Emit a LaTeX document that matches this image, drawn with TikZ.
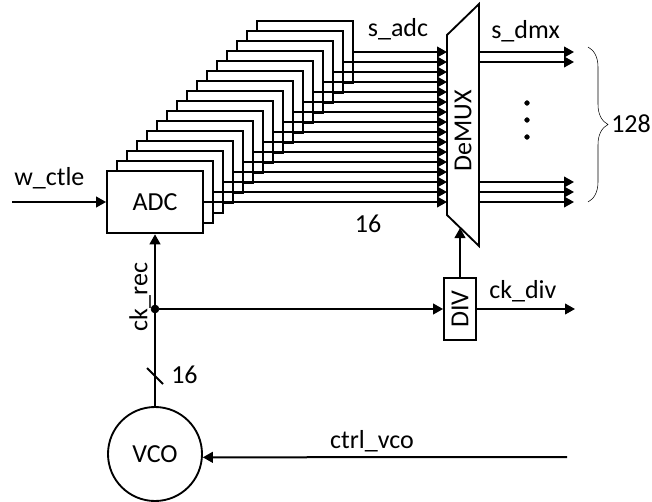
\documentclass[tikz,border=0pt]{standalone}
\usepackage{fontspec}
\setmainfont{Carlito}
\usetikzlibrary{arrows.meta,decorations.pathreplacing}
\tikzset{sigline/.style={draw,line width=1.5pt}}
\tikzset{sigarrow/.style={sigline,-{Triangle[length=7.5pt,width=8pt]}}}
\tikzset{adcbox/.style={draw,fill=white,line width=1.4pt,minimum width=72pt,minimum height=47pt,inner sep=0pt}}
\tikzset{lbl/.style={inner sep=0pt,font=\fontsize{19.5}{22}\selectfont}}
\tikzset{dot/.style={draw,circle,black,inner sep=0pt,minimum size=3.5pt,fill}}

\begin{document}
\begin{tikzpicture}[x=.75pt,y=-.75pt]
    \useasboundingbox (0,0) rectangle (652,502);

    % stack of converters, back one first
    \foreach \i in {15,14,...,0}{
      \node[adcbox] (adc\i) at (155+10*\i,202-10*\i) {};
    }
    \node[lbl] at (adc0) {ADC};
    \foreach \i in {0,...,15}{
      \coordinate (dmxin\i) at (447,202-10*\i);
      \draw[sigarrow] (adc\i.east) -- (dmxin\i);
    }

    % demux
    \draw[line width=1.4pt,fill=white] (447,35) -- (479,4) -- (479,246) -- (447,215) -- cycle;
    \node[lbl,rotate=90] (dmx) at (463,131) {DeMUX};
    \coordinate (dmxclk) at (460,228);

    % outputs
    \foreach \y in {52,62,182,192,202}{
      \coordinate (dmxout\y) at (479,\y);
      \coordinate (out\y) at (574,\y);
      \draw[sigarrow] (dmxout\y) -- (out\y);
    }
    \foreach \y in {103,120,137}{
      \node[dot] (vdot\y) at (527,\y) {};
    }
    \coordinate (bracetop) at (588,47);
    \coordinate (bracebot) at (588,202);
    \draw[thin,decorate,decoration={brace,amplitude=15pt}] (bracetop) -- (bracebot);
    \node[lbl,anchor=west] (nout) at (611,124) {128};

    % input and clock
    \coordinate (win) at (12,202);
    \draw[sigarrow] (win) -- (adc0.west);
    \node[lbl,anchor=west] (wlbl) at (14,178) {w\_ctle};

    \node[draw,circle,line width=1.4pt,minimum size=70.5pt,inner sep=0pt] (vco) at (155,454) {};
    \node[lbl] at (vco) {VCO};
    \draw[sigarrow] (vco.north) -- (adc0.south);
    \node[dot,minimum size=6pt] (jn) at (155,309) {};
    \node[lbl,rotate=90] (cklbl) at (140,297) {ck\_rec};

    \coordinate (cs1) at (147,368);
    \coordinate (cs2) at (163,384);
    \draw[sigline] (cs1) -- (cs2);
    \node[lbl,anchor=west] (cnt) at (171,375) {16};

    \node[draw,line width=1.4pt,minimum width=24pt,minimum height=47pt,inner sep=0pt] (div) at (460,309) {};
    \node[lbl,rotate=90] at (div) {DIV};
    \draw[sigarrow] (jn) -- (div.west);
    \draw[sigarrow] (div.north) -- (dmxclk);
    \coordinate (ckout) at (575,309);
    \draw[sigarrow] (div.east) -- (ckout);
    \node[lbl,anchor=west] (divlbl) at (489,291) {ck\_div};

    \coordinate (ctrl) at (567,457);
    \draw[sigarrow] (ctrl) -- (vco.-4);
    \node[lbl] (ctrllbl) at (372,441) {ctrl\_vco};

    \node[lbl] (adclbl) at (398,29) {s\_adc};
    \node[lbl,anchor=west] (dmxlbl) at (491,31) {s\_dmx};
    \node[lbl] (wid) at (368,224) {16};
\end{tikzpicture}
\end{document}
